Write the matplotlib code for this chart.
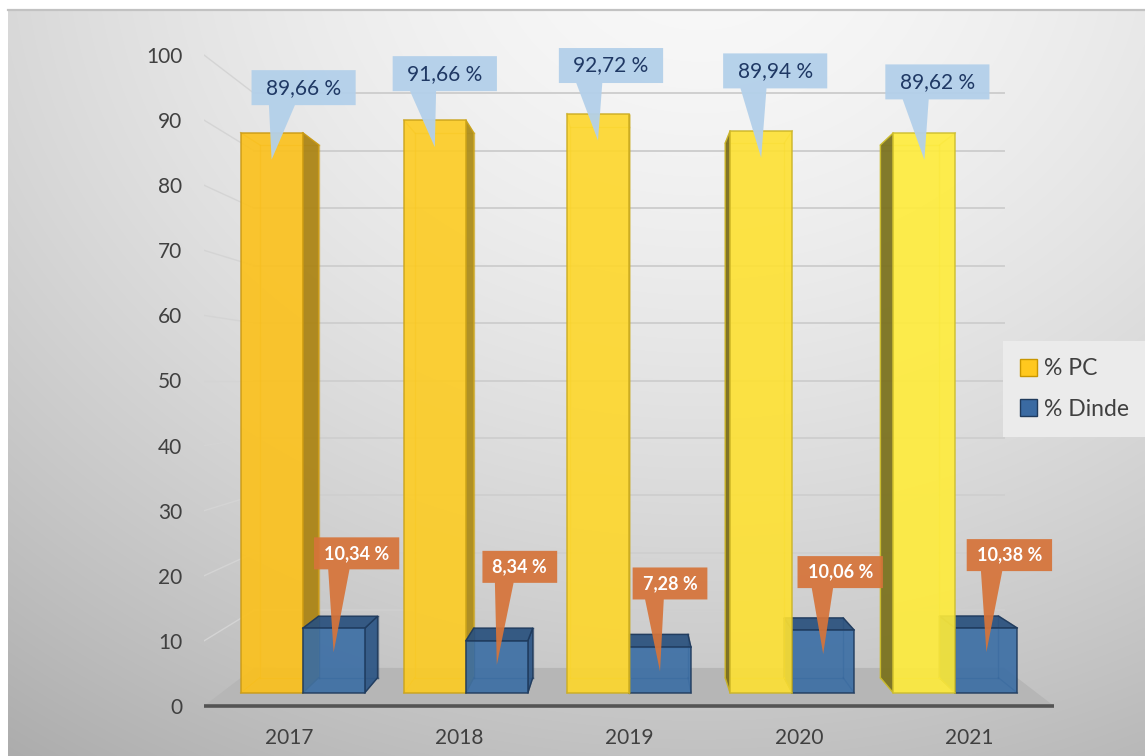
import numpy as np
import matplotlib
matplotlib.use("Agg")
import matplotlib.pyplot as plt
from matplotlib.patches import Polygon, Patch
from matplotlib.lines import Line2D
from matplotlib.colors import to_rgb
from matplotlib.transforms import IdentityTransform

# ---- data -------------------------------------------------------------
years = ["2017", "2018", "2019", "2020", "2021"]
pc_values = [89.66, 91.66, 92.72, 89.94, 89.62]
dinde_values = [10.34, 8.34, 7.28, 10.06, 10.38]
series_names = ["% PC", "% Dinde"]
y_ticks = [0, 10, 20, 30, 40, 50, 60, 70, 80, 90, 100]

# ---- layout / style ----------------------------------------------------
W, H, DPI = 1145, 756, 100
FONT = "Lato"
PX_X, PX_Y = 170.0, 6.51          # pixels per category / per unit at the front plane
XC, YC = 2.0, 50.0                # eye position (vanishing centre)
Z_BAR0, Z_BAR1, Z_WALL = 0.0417, 0.0953, 0.1325
BAR_W = 0.38

# callout offsets (box centre relative to the pointer tip), display pixels
pc_offsets = [(32, 72), (10, 73.5), (13, 75), (14, 87), (13, 78)]
dinde_offsets = [(23, 99), (23, 98), (10, 88), (17, 82), (23, 97)]


def fmt(v):
    return f"{v:.2f}".replace(".", ",") + " %"


def proj(x, y, z):
    s = 1.0 / (1.0 + z)
    return XC + (x - XC) * s, YC + (y - YC) * s


def mix(c1, c2, t):
    a, b = np.array(to_rgb(c1)), np.array(to_rgb(c2))
    return tuple(a + (b - a) * t)


def shade(c, f):
    return tuple(np.clip(np.array(to_rgb(c)) * f, 0, 1))


fig = plt.figure(figsize=(W / DPI, H / DPI), dpi=DPI, facecolor="white")

# ---- soft grey background --------------------------------------------
bg = fig.add_axes([8 / W, 0, (W - 8) / W, (H - 10) / H], zorder=0)
yy, xx = np.mgrid[0:H - 10, 0:W - 8]
d = np.hypot((xx + 8 - 700) * 1.0, (yy + 10 + 60) * 1.2)
v = 0.975 - 0.19 * np.clip(d / 900.0, 0, 1.4) ** 1.6
bg.imshow(np.dstack([v, v, v]), aspect="auto", extent=(0, 1, 0, 1), origin="upper")
bg.axis("off")
fig.add_artist(Line2D([8 / W, 1], [1 - 10 / H] * 2, color="#c2c2c2", lw=1.6,
                      transform=fig.transFigure))

# ---- main axes (front plane in data units) ------------------------------
ax = fig.add_axes([204 / W, 0, (W - 204) / W, (H - 10) / H], zorder=1)
ax.patch.set_alpha(0)
ax.set_xlim(-0.5, -0.5 + (W - 204) / PX_X)
ax.set_ylim(-(756 - 706) / PX_Y, (706 - 10) / PX_Y)
for sp in ax.spines.values():
    sp.set_visible(False)
ax.set_xticks([])
ax.set_yticks(y_ticks)
ax.set_yticklabels([str(t) for t in y_ticks], fontfamily=FONT, fontsize=15, color="#404040")
ax.tick_params(axis="y", length=0, pad=15.5)

x_lo, x_hi = -0.5, len(years) - 0.5

# walls: back gridlines and side-wall gridlines
for t in y_ticks[1:]:
    (ax0, ay0), (ax1, ay1) = proj(x_lo, t, Z_WALL), proj(x_hi, t, Z_WALL)
    ax.plot([ax0, ax1], [ay0, ay1], color="#cfcfcf", lw=1.4, zorder=1)
    (sx0, sy0), (sx1, sy1) = proj(x_lo, t, 0), proj(x_lo, t, Z_WALL)
    ax.plot([sx0, sx1], [sy0, sy1], color="#d4d4d4", lw=1.0, zorder=1)

# floor
floor = [proj(x_lo, 0, 0), proj(x_hi, 0, 0), proj(x_hi, 0, Z_WALL), proj(x_lo, 0, Z_WALL)]
ax.add_patch(Polygon(floor, closed=True, facecolor="#b6b6b6", edgecolor="none", zorder=2))
ax.plot([x_lo, x_hi], [0, 0], color="#545454", lw=2.6, solid_capstyle="butt", zorder=3)


def draw_box(x0, x1, h, face, side, top, edge, z):
    f = [proj(x0, 0, Z_BAR0), proj(x1, 0, Z_BAR0), proj(x1, h, Z_BAR0), proj(x0, h, Z_BAR0)]
    b = [proj(x0, 0, Z_BAR1), proj(x1, 0, Z_BAR1), proj(x1, h, Z_BAR1), proj(x0, h, Z_BAR1)]
    hidden = [(b[0], b[1]), (b[1], b[2]), (b[2], b[3]), (b[3], b[0])] + \
             [(f[k], b[k]) for k in range(4)]
    for p, q in hidden:
        ax.plot([p[0], q[0]], [p[1], q[1]], color=edge, lw=1.0, alpha=0.5, zorder=z)
    cx = 0.5 * (x0 + x1)
    if cx < XC:
        ax.add_patch(Polygon([f[1], b[1], b[2], f[2]], closed=True, facecolor=side,
                             edgecolor=edge, lw=1.0, alpha=0.93, zorder=z + 0.1))
    elif cx > XC:
        ax.add_patch(Polygon([f[0], b[0], b[3], f[3]], closed=True, facecolor=side,
                             edgecolor=edge, lw=1.0, alpha=0.93, zorder=z + 0.1))
    if h < YC:
        ax.add_patch(Polygon([f[3], f[2], b[2], b[3]], closed=True, facecolor=top,
                             edgecolor=edge, lw=1.0, alpha=0.93, zorder=z + 0.2))
    ax.add_patch(Polygon(f, closed=True, facecolor=face, edgecolor=edge, lw=1.1,
                         alpha=0.9, zorder=z + 0.3))


n = len(years)
blue_face, blue_top, blue_side, blue_edge = "#3a6da4", "#2a517e", "#2c5585", "#1f3a5c"
for i in range(n):
    t = i / (n - 1)
    yf = mix("#fcc11a", "#ffec3a", t)
    y_side = shade(yf, 0.68 if i < XC else 0.48)
    y_edge = shade(yf, 0.8)
    yellow = (i - BAR_W, i, pc_values[i], yf, y_side, yf, y_edge)
    blue = (i, i + BAR_W, dinde_values[i], blue_face, blue_side, blue_top, blue_edge)
    order = [yellow, blue] if i < XC else [blue, yellow]
    for k, args in enumerate(order):
        draw_box(*args, z=4 + 2 * i + k * 0.5)

# category labels below the floor
for i, yr in enumerate(years):
    ax.text(i, (706 - 738) / PX_Y, yr, ha="center", va="center", fontfamily=FONT,
            fontsize=15, color="#404040")

# ---- callouts -----------------------------------------------------------
renderer = fig.canvas.get_renderer()
ident = IdentityTransform()


def callout(tip, offset, text, box_color, text_color, weight, size, padx, height, alpha):
    tx, ty = tip
    cx, cy = tx + offset[0], ty + offset[1]
    txt = ax.text(cx, cy, text, transform=ident, ha="center", va="center",
                  fontfamily=FONT, fontsize=size, fontweight=weight, color=text_color,
                  zorder=31, clip_on=False)
    tw = txt.get_window_extent(renderer).width
    w = tw + 2 * padx
    L, R = cx - w / 2, cx + w / 2
    B, T = cy - height / 2, cy + height / 2
    if tx < cx:
        b1, b2 = L + w * 2 / 12, L + w * 5 / 12
    else:
        b1, b2 = L + w * 7 / 12, L + w * 10 / 12
    pts = [(L, B), (b1, B), (tx, ty), (b2, B), (R, B), (R, T), (L, T)]
    ax.add_patch(Polygon(pts, closed=True, facecolor=box_color, edgecolor="none",
                         alpha=alpha, transform=ident, zorder=30, clip_on=False))


for i in range(n):
    # pointer on the front face of each bar
    px, py = proj(i - BAR_W / 2, pc_values[i], Z_BAR0)
    dx, dy = ax.transData.transform((px, py))
    callout((dx, dy - 27), pc_offsets[i], fmt(pc_values[i]), "#b3d0ea", "#1f3864",
            "normal", 15, 14.5, 35, 0.95)
    px, py = proj(i + BAR_W / 2, dinde_values[i], Z_BAR0)
    dx, dy = ax.transData.transform((px, py))
    callout((dx, dy - 24), dinde_offsets[i], fmt(dinde_values[i]), "#d6743a", "white",
            "bold", 13, 10, 32, 0.93)

# ---- legend -------------------------------------------------------------
handles = [Patch(facecolor="#ffc81e", edgecolor="#c89600", lw=1.0),
           Patch(facecolor="#3a6aa2", edgecolor="#1f3a5c", lw=1.0)]
leg = fig.legend(handles, series_names, loc="upper left",
                 bbox_to_anchor=(1003 / W, 1 - 341 / H), borderaxespad=0,
                 frameon=True, facecolor="#ebebeb", edgecolor="none", fancybox=False,
                 framealpha=1, handlelength=0.75, handleheight=0.75, handletextpad=0.3,
                 labelspacing=0.85, borderpad=0.75,
                 prop={"family": FONT, "size": 16.5})
for txt in leg.get_texts():
    txt.set_color("#404040")

fig.savefig("out.png", dpi=DPI)
